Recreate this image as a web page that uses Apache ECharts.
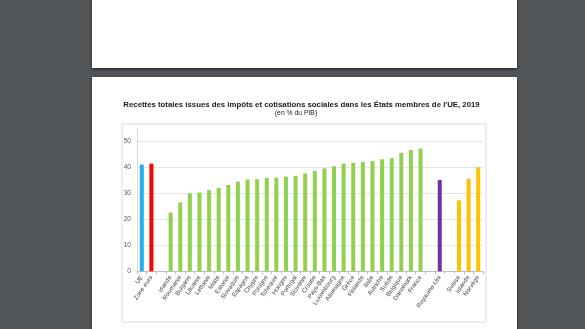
<!DOCTYPE html>
<html><head><meta charset="utf-8">
<script src="https://cdn.jsdelivr.net/npm/echarts@6/dist/echarts.min.js"></script>
<style>
html,body{margin:0;padding:0;width:585px;height:329px;overflow:hidden;background:#525659;}
.page{position:absolute;background:#fff;box-shadow:0 1px 3px rgba(0,0,0,0.6);}
#p1{left:92px;top:-10px;width:425px;height:78px;}
#p2{left:92px;top:77px;width:425px;height:270px;}
#chart{position:absolute;left:92px;top:77px;width:425px;height:252px;}
</style></head>
<body>
<div class="page" id="p1"></div>
<div class="page" id="p2"></div>
<div id="chart"></div>
<script>
const titleText = "Recettes totales issues des impôts et cotisations sociales dans les États membres de l'UE, 2019";
const subtitleText = "(en % du PIB)";
const categories = ["UE","Zone euro"," ","Irlande","Roumanie","Bulgarie","Lituanie","Lettonie","Malte","Estonie","Slovaquie","Espagne","Chypre","Pologne","Tchéquie","Hongrie","Portugal","Slovénie","Croatie","Pays-Bas","Luxembourg","Allemagne","Grèce","Finlande","Italie","Autriche","Suède","Belgique","Danemark","France","  ","Royaume-Uni","   ","Suisse","Islande","Norvège"];
const values = [41.0,41.4,null,22.6,26.5,30.0,30.3,31.2,32.1,33.2,34.5,35.3,35.4,35.9,36.0,36.4,36.7,37.6,38.6,39.6,40.4,41.4,41.7,42.1,42.3,43.1,43.5,45.6,46.7,47.2,null,35.1,null,27.3,35.6,40.0];
const groups = ["ue","ze",null,"eu","eu","eu","eu","eu","eu","eu","eu","eu","eu","eu","eu","eu","eu","eu","eu","eu","eu","eu","eu","eu","eu","eu","eu","eu","eu","eu",null,"uk",null,"aele","aele","aele"];
const yTicks = [0,10,20,30,40,50];

const groupColor = {ue:"#1DB2EE", ze:"#FF0000", eu:"#92D050", uk:"#7030A0", aele:"#FFC000"};
const chart = echarts.init(document.getElementById('chart'), null, {renderer:'canvas'});
chart.setOption({
  animation:false,
  textStyle:{fontFamily:'Liberation Sans, Arial, sans-serif'},
  graphic:[
    {type:'rect', shape:{x:30,y:47,width:364,height:198}, style:{fill:'#fff',stroke:'#d9d9d9',lineWidth:1}, z:-1},
    {type:'text', x:209.5, y:28, style:{text:titleText, fontSize:7.8, fontWeight:'bold', fill:'#1a1a1a', align:'center', verticalAlign:'middle', fontFamily:'Liberation Sans, Arial, sans-serif'}},
    {type:'text', x:204, y:36.5, style:{text:subtitleText, fontSize:6.8, fill:'#1a1a1a', align:'center', verticalAlign:'middle', fontFamily:'Liberation Sans, Arial, sans-serif'}}
  ],
  grid:{left:45, top:51.3, width:346, height:143, containLabel:false},
  xAxis:{
    type:'category', data:categories,
    axisLine:{show:true, lineStyle:{color:'#bfbfbf', width:1}},
    axisTick:{show:true, alignWithLabel:false, length:3, lineStyle:{color:'#bfbfbf'}},
    axisLabel:{interval:0, rotate:55, fontSize:6.2, color:'#404040', margin:5}
  },
  yAxis:{
    type:'value', min:0, max:55, interval:10,
    axisLine:{show:true, lineStyle:{color:'#d9d9d9'}},
    axisTick:{show:false},
    axisLabel:{fontSize:6.6, color:'#595959', margin:6, showMaxLabel:false,
      formatter:function(v){return yTicks.indexOf(v)>=0 ? String(v) : '';}},
    splitLine:{show:true, showMaxLine:false, lineStyle:{color:'#e6e6e6', width:1}}
  },
  series:[{
    type:'bar', barWidth:4,
    data: values.map(function(v,i){ return {value:v, itemStyle:{color: groups[i] ? groupColor[groups[i]] : 'transparent'}}; })
  }]
});
</script>
</body></html>
